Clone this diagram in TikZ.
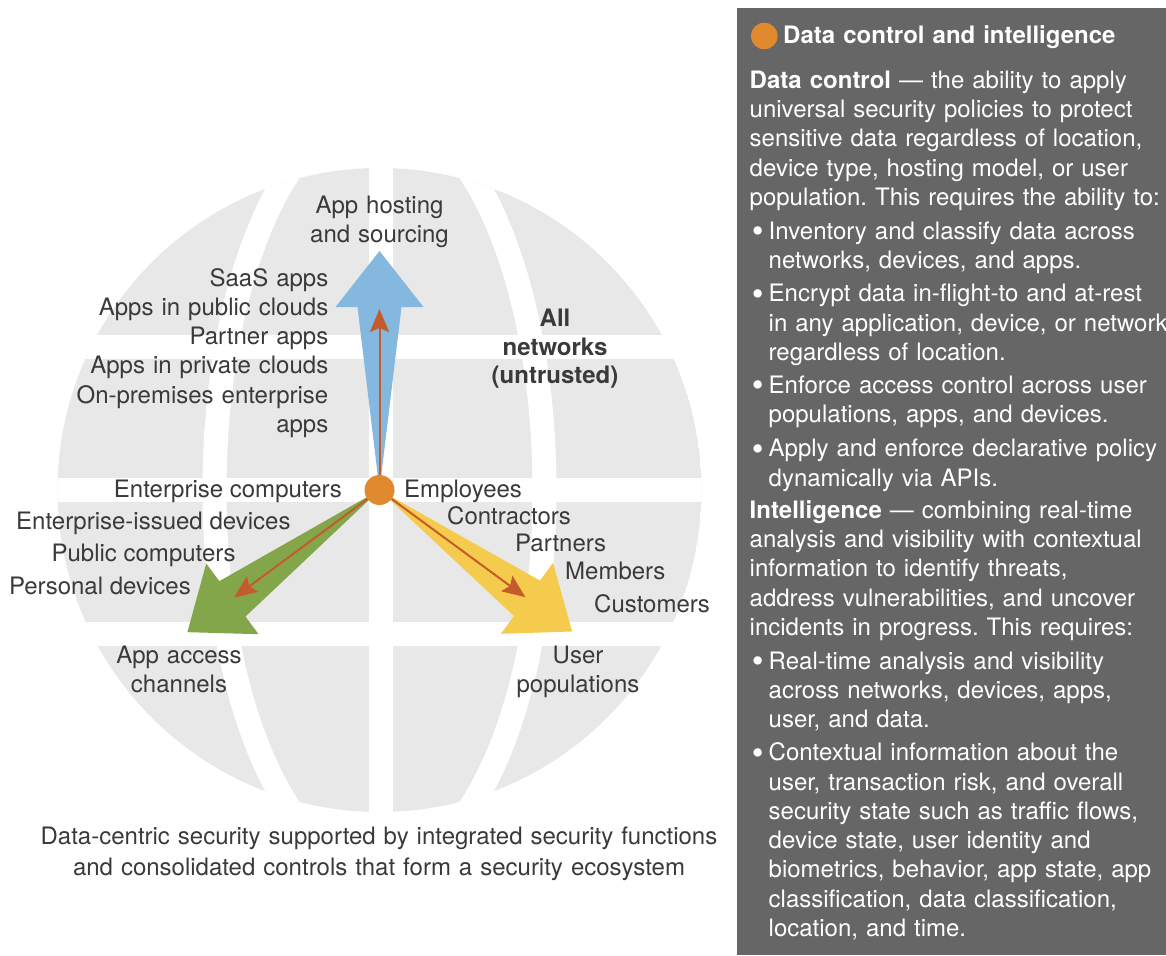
\documentclass[tikz,border=0pt]{standalone}
\usepackage{fontspec}
\setmainfont{TeX Gyre Heros}
\usetikzlibrary{arrows.meta}
\frenchspacing

\definecolor{globegray}{RGB}{232,232,232}
\definecolor{hostblue}{RGB}{133,184,223}
\definecolor{accessgreen}{RGB}{132,166,74}
\definecolor{useryellow}{RGB}{244,203,76}
\definecolor{hubOrange}{RGB}{224,137,46}
\definecolor{flowbrown}{RGB}{197,90,44}
\definecolor{labelgray}{RGB}{58,58,58}
\definecolor{panelgray}{RGB}{102,102,102}

% bigger bullet for the panel lists
\newcommand{\itembullet}{\llap{\raisebox{-3.6pt}{\scalebox{1.4}{\textbullet}}\hspace{5pt}}}

\begin{document}
\begin{tikzpicture}[x=1pt, y=-1pt]
\tikzstyle{label_style} = [font=\fontsize{24}{29.3}\selectfont, text=labelgray, inner sep=0]
\tikzstyle{bold_style} = [label_style, font=\fontsize{24}{28.5}\selectfont\bfseries]
\tikzstyle{panel_style} = [font=\fontsize{24}{29.3}\selectfont, text=white, inner sep=0, text width=430pt, align=left, anchor=base west]
\tikzstyle{band_style} = [draw=white, line width=24pt]
\tikzstyle{flow_style} = [draw=flowbrown, line width=2pt, -{Stealth[length=23pt, width=19pt, inset=4pt]}]
\tikzstyle{hub_style} = [circle, fill=hubOrange, minimum size=30pt, inner sep=0]

\useasboundingbox (0,0) rectangle (1166,955);

% globe with its latitude and meridian bands
\coordinate (O) at (379.5,490);
\begin{scope}
  \clip (O) circle (322);
  \fill[globegray] (O) circle (322);
  \draw[band_style] (40,346.5) -- (720,346.5);
  \draw[band_style] (40,490) -- (720,490);
  \draw[band_style] (40,633.5) -- (720,633.5);
  \draw[band_style] (380.5,150) -- (380.5,830);
  \draw[band_style] (O) ellipse [x radius=165, y radius=380];
\end{scope}

% the three wide arrows out of the hub
\begin{scope}[shift={(O)}, rotate=90]
  \fill[hostblue] (0,0) -- (183,22) -- (183,44) -- (239,0) -- (183,-44) -- (183,-22) -- cycle;
  \coordinate (hostTip) at (181,0);
\end{scope}
\begin{scope}[shift={(O)}, rotate=216.5]
  \fill[accessgreen] (0,0) -- (183,22) -- (183,44) -- (239,0) -- (183,-44) -- (183,-22) -- cycle;
  \coordinate (accessTip) at (181,0);
\end{scope}
\begin{scope}[shift={(O)}, rotate=-36.3]
  \fill[useryellow] (0,0) -- (183,22) -- (183,44) -- (239,0) -- (183,-44) -- (183,-22) -- cycle;
  \coordinate (userTip) at (181,0);
\end{scope}

\node[hub_style] (hub) at (O) {};
\draw[flow_style] (hub) -- (hostTip);
\draw[flow_style] (hub) -- (accessTip);
\draw[flow_style] (hub) -- (userTip);

% labels on the globe
\node[label_style, text width=200pt, align=center, anchor=base] (hosting) at (379.5,213) {App hosting\\and sourcing};
\node[label_style, text width=300pt, align=right, anchor=base east] (hostlist) at (328.5,286) {SaaS apps\\Apps in public clouds\\Partner apps\\Apps in private clouds\\On-premises enterprise\\apps};
\node[bold_style, text width=200pt, align=center, anchor=base] (untrusted) at (555,326.7) {All\\networks\\(untrusted)};

\node[label_style, anchor=base east] (entcomp) at (342,497.5) {Enterprise computers};
\node[label_style, anchor=base east] (entdev) at (290.7,529.5) {Enterprise-issued devices};
\node[label_style, anchor=base east] (pubcomp) at (235.7,561.7) {Public computers};
\node[label_style, anchor=base east] (persdev) at (191,594) {Personal devices};

\node[label_style, anchor=base west] (employees) at (404,497.5) {Employees};
\node[label_style, anchor=base west] (contractors) at (447,524) {Contractors};
\node[label_style, anchor=base west] (partners) at (515,551.5) {Partners};
\node[label_style, anchor=base west] (members) at (565,579) {Members};
\node[label_style, anchor=base west] (customers) at (594,612) {Customers};

\node[label_style, text width=200pt, align=center, anchor=base] (access) at (179,663.3) {App access\\channels};
\node[label_style, text width=200pt, align=center, anchor=base] (users) at (578,663.3) {User\\populations};

\node[label_style, font=\fontsize{24}{31}\selectfont, text width=740pt, align=center, anchor=base] (caption) at (379,844) {Data-centric security supported by integrated security functions\\and consolidated controls that form a security ecosystem};

% side panel
\fill[panelgray] (737,8) rectangle (1166,955);
\node[hub_style, minimum size=26.6pt] (dot) at (764.3,36) {};
\node[panel_style, font=\fontsize{24}{29.3}\selectfont\bfseries] (title) at (783,43.3) {Data control and intelligence};

\node[panel_style] (control) at (749.5,88.3) {\textbf{Data control} — the ability to apply\\universal security policies to protect\\sensitive data regardless of location,\\device type, hosting model, or user\\population. This requires the ability to:};
\node[panel_style] (inventory) at (768.5,239.3) {\itembullet Inventory and classify data across\\networks, devices, and apps.};
\node[panel_style] (encrypt) at (768.5,301.7) {\itembullet Encrypt data in-flight-to and at-rest\\in any application, device, or network\\regardless of location.};
\node[panel_style] (enforce) at (768.5,393.3) {\itembullet Enforce access control across user\\populations, apps, and devices.};
\node[panel_style] (declarative) at (768.5,456.7) {\itembullet Apply and enforce declarative policy\\dynamically via APIs.};

\node[panel_style] (intelligence) at (749.5,518.3) {\textbf{Intelligence} — combining real-time\\analysis and visibility with contextual\\information to identify threats,\\address vulnerabilities, and uncover\\incidents in progress. This requires:};
\node[panel_style] (realtime) at (768.5,669.3) {\itembullet Real-time analysis and visibility\\across networks, devices, apps,\\user, and data.};
\node[panel_style] (contextual) at (768.5,760.7) {\itembullet Contextual information about the\\user, transaction risk, and overall\\security state such as traffic flows,\\device state, user identity and\\biometrics, behavior, app state, app\\classification, data classification,\\location, and time.};
\end{tikzpicture}
\end{document}
